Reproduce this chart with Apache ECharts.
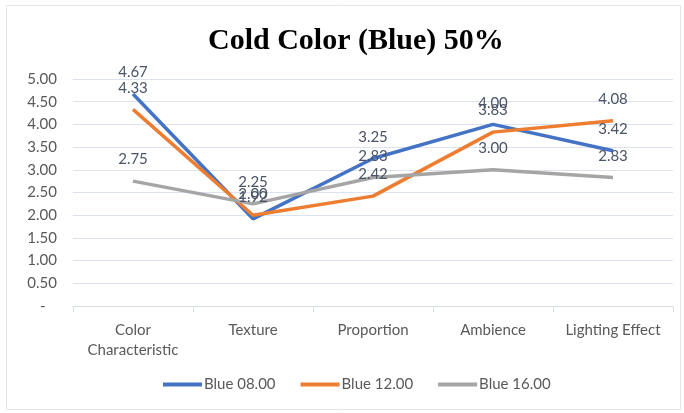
<!DOCTYPE html>
<html>
<head>
<meta charset="utf-8">
<script src="https://cdn.jsdelivr.net/npm/echarts@6/dist/echarts.min.js"></script>
<style>
  html, body { margin: 0; padding: 0; background: #fff; }
  #main { width: 684px; height: 413px; }
</style>
</head>
<body>
<div id="main"></div>
<script>
// data
var categories = ['Color\nCharacteristic', 'Texture', 'Proportion', 'Ambience', 'Lighting Effect'];
var blue08 = [4.67, 1.92, 3.25, 4.00, 3.42];
var blue12 = [4.33, 2.00, 2.42, 3.83, 4.08];
var blue16 = [2.75, 2.25, 2.83, 3.00, 2.83];
var seriesNames = ['Blue 08.00', 'Blue 12.00', 'Blue 16.00'];
var colors = ['#4472C4', '#ED7D31', '#A5A5A5'];

var chart = echarts.init(document.getElementById('main'));

function makeSeries(name, data, color) {
  return {
    name: name,
    type: 'line',
    data: data,
    symbol: 'circle',
    symbolSize: 0,
    showSymbol: true,
    lineStyle: { color: color, width: 3.5 },
    itemStyle: { color: color },
    labelLayout: { hideOverlap: false },
    label: {
      show: true,
      position: 'top',
      distance: 14,
      color: '#4a5466',
      fontSize: 15,
      fontFamily: 'Lato',
      formatter: function (p) { return p.value.toFixed(2); }
    }
  };
}

var option = {
  animation: false,
  textStyle: { fontFamily: 'Lato' },
  title: {
    text: 'Cold Color (Blue) 50%',
    left: 203,
    top: 21,
    textStyle: { fontFamily: 'Liberation Serif', fontWeight: 'bold', fontSize: 30, color: '#000' }
  },
  graphic: [{
    type: 'rect',
    shape: { x: 6.5, y: 5.5, width: 674, height: 404 },
    style: { fill: 'none', stroke: '#e3e6ec', lineWidth: 1 },
    silent: true
  }],
  legend: {
    data: seriesNames,
    bottom: 16,
    left: 158,
    icon: 'rect',
    itemWidth: 39,
    itemHeight: 4,
    itemGap: 25,
    textStyle: { fontSize: 15, color: '#595959', fontFamily: 'Lato', padding: [0, 0, 0, -3] }
  },
  grid: { left: 73, right: 11, top: 79, bottom: 107 },
  xAxis: {
    type: 'category',
    data: categories,
    boundaryGap: true,
    axisLine: { lineStyle: { color: '#d9dde6', width: 1 } },
    axisTick: { show: true, alignWithLabel: false, length: 6, lineStyle: { color: '#d9dde6' } },
    axisLabel: { color: '#595959', fontSize: 15, lineHeight: 20, margin: 14, interval: 0 }
  },
  yAxis: {
    type: 'value',
    min: 0,
    max: 5,
    interval: 0.5,
    axisLine: { show: false },
    axisTick: { show: false },
    splitLine: { lineStyle: { color: '#dde3ee', width: 1 } },
    axisLabel: {
      color: '#595959',
      fontSize: 15,
      margin: 16,
      formatter: function (v) { return v === 0 ? '-   ' : v.toFixed(2); }
    }
  },
  series: [
    makeSeries(seriesNames[0], blue08, colors[0]),
    makeSeries(seriesNames[1], blue12, colors[1]),
    makeSeries(seriesNames[2], blue16, colors[2])
  ]
};

chart.setOption(option);
</script>
</body>
</html>
